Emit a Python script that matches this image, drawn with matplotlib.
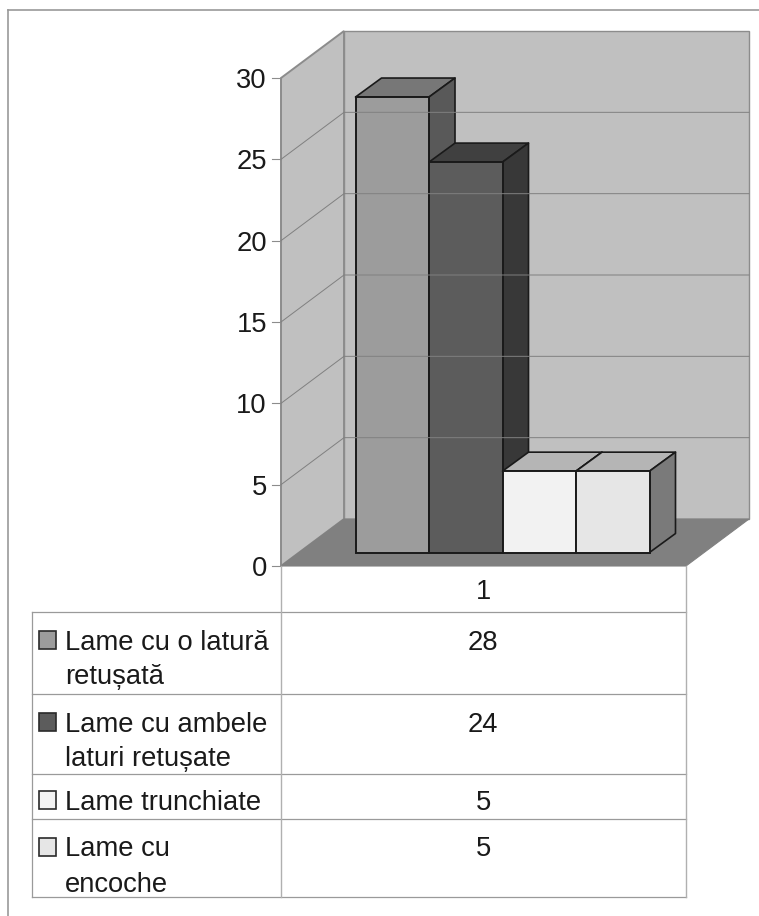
import matplotlib
matplotlib.use('Agg')
import matplotlib.pyplot as plt
from matplotlib.patches import Polygon, Rectangle

plt.rcParams['font.family'] = ['Liberation Sans', 'DejaVu Sans']

W, H = 759, 916
FS = 19.7

# data
values = [28, 24, 5, 5]
front_colors = ['#9c9c9c', '#5c5c5c', '#f2f2f2', '#e6e6e6']
top_colors = ['#777777', '#404040', '#b5b5b5', '#b5b5b5']
side_colors = ['#595959', '#383838', '#7a7a7a', '#7a7a7a']
legend_lines = [['Lame cu o latură', 'retușată'],
                ['Lame cu ambele', 'laturi retușate'],
                ['Lame trunchiate'],
                ['Lame cu', 'encoche']]
y_ticks = [0, 5, 10, 15, 20, 25, 30]
category = '1'

# layout, pixels
PX = 488 / 30  # pixels per unit
WALL_L, WALL_R = 281, 686
Y0 = 566
DEPTH_X, DEPTH_Y = 63, 47 / PX
BAR_X0, BAR_W = 355.5, 73.5
BAR_BASE = 13.5 / PX
BAR_DX, BAR_DY = 26, 19 / PX
GRAY = '#8c8c8c'

fig = plt.figure(figsize=(W / 100, H / 100), dpi=100)

# chart axes: x in pixels, y in chart values
ax = fig.add_axes([0, 0, 1, 1])
ax.set_xlim(0, W)
ax.set_ylim(-(H - Y0) / PX, Y0 / PX)
ax.axis('off')

top = y_ticks[-1]
# walls and floor
ax.add_patch(Polygon([(WALL_L + DEPTH_X, DEPTH_Y), (WALL_R + DEPTH_X, DEPTH_Y),
                      (WALL_R + DEPTH_X, top + DEPTH_Y), (WALL_L + DEPTH_X, top + DEPTH_Y)],
                     fc='#c0c0c0', ec=GRAY, lw=1.0))
ax.add_patch(Polygon([(WALL_L, 0), (WALL_L + DEPTH_X, DEPTH_Y),
                      (WALL_L + DEPTH_X, top + DEPTH_Y), (WALL_L, top)],
                     fc='#c0c0c0', ec=GRAY, lw=1.4))
ax.add_patch(Polygon([(WALL_L, 0), (WALL_R, 0), (WALL_R + DEPTH_X, DEPTH_Y),
                      (WALL_L + DEPTH_X, DEPTH_Y)], fc='#808080', ec='#808080', lw=0.8))

# grid and ticks
for t in y_ticks:
    ax.plot([WALL_L - 9, WALL_L], [t, t], color=GRAY, lw=0.8)
    ax.text(WALL_L - 14, t, str(t), ha='right', va='center_baseline', fontsize=FS, color='#1a1a1a')
    if t > 0 and t < top:
        ax.plot([WALL_L, WALL_L + DEPTH_X, WALL_R + DEPTH_X],
                [t, t + DEPTH_Y, t + DEPTH_Y], color='#808080', lw=0.7)

# bars
for i, v in enumerate(values):
    x0 = BAR_X0 + i * BAR_W
    x1 = x0 + BAR_W
    y0 = BAR_BASE
    y1 = BAR_BASE + v
    ax.add_patch(Polygon([(x0, y1), (x1, y1), (x1 + BAR_DX, y1 + BAR_DY), (x0 + BAR_DX, y1 + BAR_DY)],
                         fc=top_colors[i], ec='#1a1a1a', lw=1.2, joinstyle='round'))
    ax.add_patch(Polygon([(x1, y0), (x1 + BAR_DX, y0 + BAR_DY), (x1 + BAR_DX, y1 + BAR_DY), (x1, y1)],
                         fc=side_colors[i], ec='#1a1a1a', lw=1.2, joinstyle='round'))
    ax.add_patch(Rectangle((x0, y0), BAR_W, v, fc=front_colors[i], ec='#1a1a1a', lw=1.4))

# table axes: plain pixels, y down
tb = fig.add_axes([0, 0, 1, 1])
tb.set_xlim(0, W)
tb.set_ylim(H, 0)
tb.axis('off')
tb.patch.set_alpha(0)

# outer frame
tb.plot([8, 8], [H, 10], color='#999999', lw=1.2)
tb.plot([8, W], [10, 10], color='#999999', lw=1.2)

rows = [612, 694, 774, 819, 897]
for y in rows:
    tb.plot([32, WALL_R], [y, y], color='#9a9a9a', lw=0.9)
tb.plot([32, 32], [rows[0], rows[-1]], color='#9a9a9a', lw=0.9)
tb.plot([WALL_L, WALL_L], [Y0, rows[-1]], color='#b0b0b0', lw=1.0)
tb.plot([WALL_R, WALL_R], [Y0, rows[-1]], color='#b0b0b0', lw=1.0)

tb.text(483, 589, category, ha='center', va='center_baseline', fontsize=FS, color='#1a1a1a')

line_h = 35
for i, lines in enumerate(legend_lines):
    yc = rows[i] + 27.5 if len(lines) > 1 else rows[i] + 26
    tb.add_patch(Rectangle((39, yc - 9), 17, 18, fc=front_colors[i], ec='#2a2a2a', lw=1.2))
    for j, s in enumerate(lines):
        tb.text(65, yc + j * line_h, s, ha='left', va='center_baseline', fontsize=FS, color='#1a1a1a')
    tb.text(483, yc, str(values[i]), ha='center', va='center_baseline', fontsize=FS, color='#1a1a1a')

fig.savefig('out.png', dpi=100, facecolor='white')
